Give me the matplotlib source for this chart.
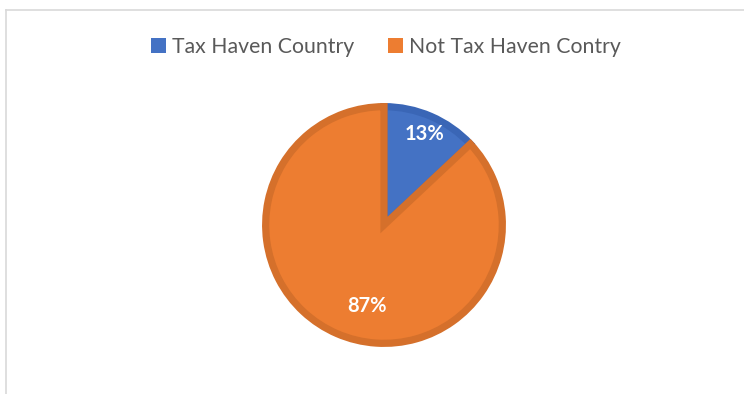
import matplotlib
matplotlib.use("Agg")
import matplotlib.pyplot as plt
from matplotlib.lines import Line2D
from matplotlib.patches import Patch

labels = ["Tax Haven Country", "Not Tax Haven Contry"]
shares = [13, 87]
fills = ["#4472C4", "#ED7D31"]
edges = ["#3A66B6", "#D5702B"]
# label offsets from the pie centre, in radius units
label_pos = [(0.33, 0.75), (-0.14, -0.66)]

plt.rcParams['font.family'] = ['Lato', 'DejaVu Sans']

W, H = 744, 394
fig = plt.figure(figsize=(W / 100, H / 100), dpi=100)

# chart frame (only top and left edges are visible in the crop)
fig.add_artist(Line2D([6 / W, 1], [1 - 10 / H, 1 - 10 / H], color="#D9D9D9", lw=1.2))
fig.add_artist(Line2D([6 / W, 6 / W], [0, 1 - 10 / H], color="#D9D9D9", lw=1.2))

cx, cy, r = 384, 225, 122
ax = fig.add_axes([(cx - r) / W, (H - cy - r) / H, 2 * r / W, 2 * r / H])
wedges, texts, autotexts = ax.pie(
    shares, colors=fills, startangle=90, counterclock=False, radius=0.97,
    autopct="%d%%",
    wedgeprops=dict(linewidth=5.2, joinstyle="miter"),
    textprops=dict(color="white", fontsize=14.5, fontweight="bold"))
for w, e in zip(wedges, edges):
    w.set_edgecolor(e)
for t, p in zip(autotexts, label_pos):
    t.set_position(p)
ax.set_xlim(-1, 1)
ax.set_ylim(-1, 1)
ax.set_aspect("equal")
ax.axis("off")

handles = [Patch(facecolor=c, edgecolor="none") for c in fills]
fig.legend(handles, labels, loc="center", bbox_to_anchor=(386 / W, 1 - 47 / H), ncol=2,
           frameon=False, fontsize=15.3, labelcolor="#595959", handlelength=0.7,
           handleheight=0.7, handletextpad=0.3, columnspacing=1.6)

fig.savefig("out.png", dpi=100)
